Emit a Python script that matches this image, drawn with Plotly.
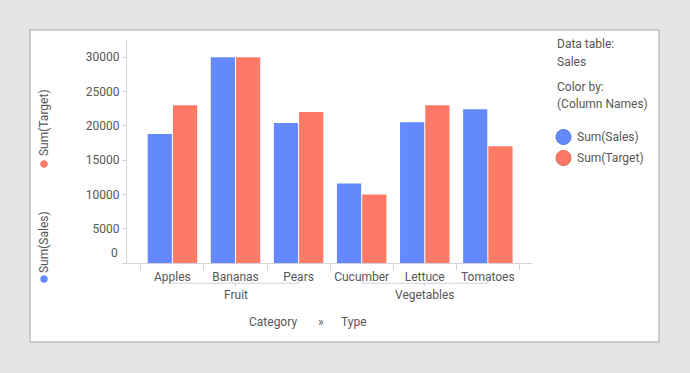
import plotly.graph_objects as go

# ---------------- data ----------------
categories = ["Apples", "Bananas", "Pears", "Cucumber", "Lettuce", "Tomatoes"]
types = ["Fruit", "Fruit", "Fruit", "Vegetables", "Vegetables", "Vegetables"]
sum_sales = [18800, 30000, 20400, 11600, 20500, 22400]
sum_target = [23000, 30000, 22000, 10000, 23000, 17000]
series_names = ["Sum(Sales)", "Sum(Target)"]
y_ticks = [0, 5000, 10000, 15000, 20000, 25000, 30000]

# ---------------- style ----------------
W, H = 690, 373
L, R, T, B = 127, 532, 40, 263          # plot area in pixels
BLUE, RED = "#6389FD", "#FD7A67"
BLUE_EDGE, RED_EDGE = "#4C72E6", "#E0604E"
TXT = "#575757"
AX = "#D3D3DD"
FONT = "Roboto"


def px(x):
    return (x - L) / (R - L)


def py(y):
    return (B - y) / (B - T)


fig = go.Figure()
for name, vals, col in [(series_names[0], sum_sales, BLUE), (series_names[1], sum_target, RED)]:
    fig.add_trace(go.Bar(x=categories, y=vals, name=name, marker_color=col,
                         marker_line_width=0, showlegend=False))

tick_text = ["" if v == 0 else str(v) for v in y_ticks]

fig.update_layout(
    width=W, height=H,
    margin=dict(l=L, r=W - R, t=T, b=H - B, pad=0),
    paper_bgcolor="#E5E5E5",
    plot_bgcolor="rgba(0,0,0,0)",
    barmode="group", bargap=0.2, bargroupgap=0.04,
    font=dict(family=FONT, size=12, color=TXT),
    xaxis=dict(type="category", range=[-0.72, 5.7], showline=True, linecolor=AX, linewidth=1,
               ticks="outside", tickson="boundaries", ticklen=6, tickcolor=AX, tickangle=0,
               ticklabelstandoff=3,
               showgrid=False, zeroline=False, tickfont=dict(size=12, color=TXT)),
    yaxis=dict(range=[0, 32500], tickvals=y_ticks, ticktext=tick_text, showline=True,
               linecolor=AX, linewidth=1, ticks="outside", ticklen=4, tickcolor=AX,
               showgrid=False, zeroline=False, tickfont=dict(size=12, color=TXT)),
)

shapes = []
# white panel with grey frame
shapes.append(dict(type="rect", xref="paper", yref="paper", x0=px(30), x1=px(659),
                   y0=py(342), y1=py(30), fillcolor="white",
                   line=dict(color="#A6A6A6", width=1), layer="below"))

annotations = []
# "0" tick label shifted up
annotations.append(dict(xref="paper", yref="paper", x=px(120), y=py(253), text=str(y_ticks[0]),
                        showarrow=False, xanchor="right", yanchor="middle",
                        font=dict(size=12, color=TXT)))

# group brackets
groups = []
for i, t in enumerate(types):
    if not groups or groups[-1][0] != t:
        groups.append([t, i, i])
    else:
        groups[-1][2] = i
yl, yup, ydn = py(283.3), py(280.3), py(286.5)
for name, i0, i1 in groups:
    mid = (i0 + i1) / 2
    shapes.append(dict(type="line", xref="x", yref="paper", x0=i0, x1=i1, y0=yl, y1=yl,
                       line=dict(color=AX, width=1)))
    for xi in (i0, i1):
        shapes.append(dict(type="line", xref="x", yref="paper", x0=xi, x1=xi, y0=yl, y1=yup,
                           line=dict(color=AX, width=1)))
    shapes.append(dict(type="line", xref="x", yref="paper", x0=mid, x1=mid, y0=yl, y1=ydn,
                       line=dict(color=AX, width=1)))
    annotations.append(dict(xref="x", yref="paper", x=mid, y=py(294.5), text=name,
                            showarrow=False, xanchor="center", yanchor="middle",
                            font=dict(size=12, color=TXT)))

# x axis title: Category » Type
annotations += [
    dict(xref="paper", yref="paper", x=px(298.5), y=py(321.7), text="Category", showarrow=False,
         xanchor="right", yanchor="middle"),
    dict(xref="paper", yref="paper", x=px(320.5), y=py(321.7), text="»", showarrow=False,
         xanchor="center", yanchor="middle"),
    dict(xref="paper", yref="paper", x=px(338.5), y=py(321.7), text="Type", showarrow=False,
         xanchor="left", yanchor="middle"),
]

# y axis title (rotated, with colour dots)
for name, ctr, dot, col in [(series_names[0], 242, 279, BLUE), (series_names[1], 123, 164, RED)]:
    annotations.append(dict(xref="paper", yref="paper", x=px(44), y=py(ctr), text=name,
                            textangle=-90, showarrow=False, xanchor="center", yanchor="middle",
                            font=dict(size=12, color=TXT)))
    shapes.append(dict(type="circle", xref="paper", yref="paper", xsizemode="pixel",
                       ysizemode="pixel", xanchor=px(44), yanchor=py(dot),
                       x0=-3.5, x1=3.5, y0=-3.5, y1=3.5, fillcolor=col,
                       line=dict(color=col, width=0.5)))

# legend panel
for txt, yy in [("Data table:", 44), ("Sales", 61.7), ("Color by:", 87.3), ("(Column Names)", 104)]:
    annotations.append(dict(xref="paper", yref="paper", x=px(554.5), y=py(yy), text=txt,
                            showarrow=False, xanchor="left", yanchor="middle",
                            font=dict(size=12, color=TXT)))
for name, yy, col, edge in [(series_names[0], 137, BLUE, BLUE_EDGE), (series_names[1], 158, RED, RED_EDGE)]:
    shapes.append(dict(type="circle", xref="paper", yref="paper", xsizemode="pixel",
                       ysizemode="pixel", xanchor=px(563.5), yanchor=py(yy),
                       x0=-7.5, x1=7.5, y0=-7.5, y1=7.5, fillcolor=col,
                       line=dict(color=edge, width=1)))
    annotations.append(dict(xref="paper", yref="paper", x=px(574.5), y=py(yy), text=name,
                            showarrow=False, xanchor="left", yanchor="middle",
                            font=dict(size=12, color=TXT)))

fig.update_layout(shapes=shapes, annotations=annotations)
fig.write_html("out.html", config={"displayModeBar": False},
               post_script="document.body.style.margin='0';")
